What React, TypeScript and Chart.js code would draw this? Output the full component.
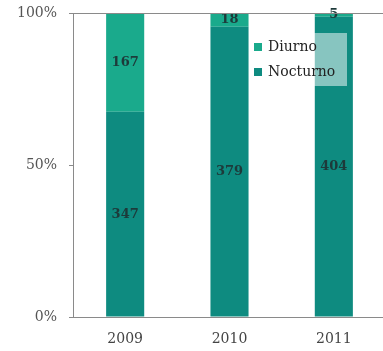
import React, { useEffect, useRef } from "react";
import { Chart, registerables } from "chart.js";

Chart.register(...registerables);

const categories = ["2009", "2010", "2011"];
const nocturno = [347, 379, 404];
const diurno = [167, 18, 5];
const seriesNames = ["Nocturno", "Diurno"];
const seriesColors = ["#0e8b80", "#1aaa8c"];
const yTicks = [0, 50, 100];

const totals = categories.map((_, i) => nocturno[i] + diurno[i]);
const pct = (arr: number[]) => arr.map((v, i) => (v / totals[i]) * 100);

const FONT = "'DejaVu Serif', serif";

const topLinePlugin = {
  id: "topLine",
  afterDraw(chart: any) {
    const { ctx, chartArea } = chart;
    ctx.save();
    ctx.strokeStyle = "#8a8a8a";
    ctx.lineWidth = 1;
    ctx.beginPath();
    ctx.moveTo(chartArea.left - 4, Math.round(chartArea.top) + 0.5);
    ctx.lineTo(chartArea.right, Math.round(chartArea.top) + 0.5);
    ctx.stroke();
    ctx.restore();
  },
};

const labelsPlugin = {
  id: "segLabels",
  afterDatasetsDraw(chart: any) {
    const { ctx } = chart;
    const raws = [nocturno, diurno];
    ctx.save();
    ctx.font = "bold 13px " + FONT;
    ctx.fillStyle = "#1d3a3a";
    ctx.textAlign = "center";
    ctx.textBaseline = "middle";
    chart.data.datasets.forEach((_: any, di: number) => {
      const meta = chart.getDatasetMeta(di);
      meta.data.forEach((el: any, i: number) => {
        const p = el.getCenterPoint();
        ctx.fillText(String(raws[di][i]), p.x, p.y);
      });
    });
    ctx.restore();
  },
};

const legendPlugin = {
  id: "innerLegend",
  afterDraw(chart: any) {
    const { ctx, chartArea } = chart;
    const x0 = chartArea.left + 177;
    const y0 = chartArea.top + 20;
    ctx.save();
    ctx.fillStyle = "rgba(255,255,255,0.5)";
    ctx.fillRect(x0, y0, 97, 53);
    const items = [1, 0];
    ctx.font = "14px " + FONT;
    ctx.textBaseline = "middle";
    ctx.textAlign = "left";
    items.forEach((di, k) => {
      const cy = y0 + 14 + k * 25;
      ctx.fillStyle = seriesColors[di];
      ctx.fillRect(x0 + 4, cy - 4, 8, 8);
      ctx.fillStyle = "#222";
      ctx.fillText(seriesNames[di], x0 + 18, cy);
    });
    ctx.restore();
  },
};

export default function App() {
  const ref = useRef<HTMLCanvasElement>(null);
  useEffect(() => {
    if (!ref.current) return;
    const chart = new Chart(ref.current, {
      type: "bar",
      data: {
        labels: categories,
        datasets: [
          {
            label: seriesNames[0],
            data: pct(nocturno),
            backgroundColor: seriesColors[0],
            borderWidth: 0,
            categoryPercentage: 1,
            barPercentage: 0.365,
          },
          {
            label: seriesNames[1],
            data: pct(diurno),
            backgroundColor: seriesColors[1],
            borderWidth: 0,
            categoryPercentage: 1,
            barPercentage: 0.365,
          },
        ],
      },
      options: {
        responsive: false,
        animation: false,
        devicePixelRatio: 1,
        layout: { padding: { top: 13, right: 6, left: 0, bottom: 0 } },
        plugins: {
          legend: { display: false },
          tooltip: { enabled: false },
        },
        scales: {
          x: {
            stacked: true,
            grid: { display: false, drawTicks: false },
            border: { display: true, color: "#8a8a8a" },
            ticks: { font: { family: FONT, size: 14 }, color: "#444", padding: 14 },
            afterFit: (s: any) => {
              s.height = 34;
              s.paddingLeft = 0;
              s.paddingRight = 0;
            },
          },
          y: {
            stacked: true,
            min: 0,
            max: 100,
            afterBuildTicks: (s: any) => {
              s.ticks = yTicks.map((v) => ({ value: v }));
            },
            grid: { drawOnChartArea: false, drawTicks: true, tickLength: 4, color: "#8a8a8a" },
            border: { display: true, color: "#8a8a8a" },
            ticks: {
              font: { family: FONT, size: 14 },
              color: "#555",
              padding: 12,
              callback: (v: any) => v + "%",
            },
            afterFit: (s: any) => {
              s.width = 73;
              s.paddingTop = 0;
              s.paddingBottom = 0;
            },
          },
        },
      },
      plugins: [topLinePlugin, labelsPlugin, legendPlugin],
    });
    return () => chart.destroy();
  }, []);
  return (
    <div style={{ position: "absolute", left: 0, top: 0, width: 383, height: 351, overflow: "hidden", background: "#fff" }}>
      <canvas ref={ref} width={392} height={351} style={{ display: "block" }} />
    </div>
  );
}
